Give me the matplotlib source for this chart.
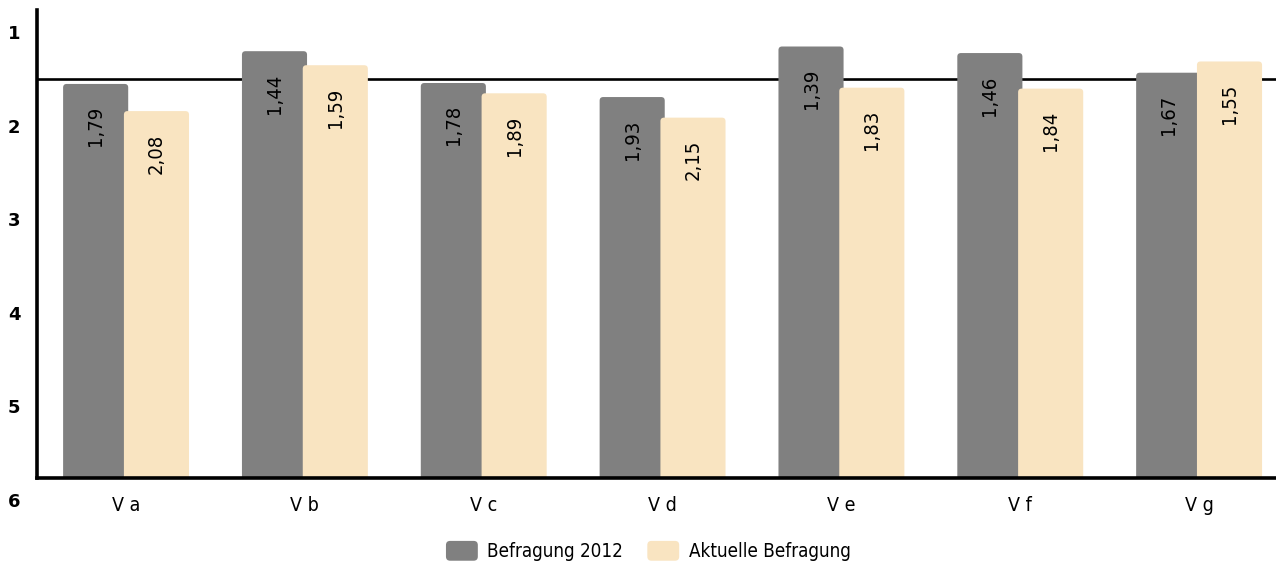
import matplotlib

matplotlib.use("Agg")
import matplotlib.pyplot as plt
import numpy as np
from matplotlib.legend_handler import HandlerPatch
from matplotlib.patches import FancyBboxPatch, Patch
from matplotlib.transforms import ScaledTranslation

plt.rcParams["font.family"] = ["DejaVu Sans"]
plt.rcParams["font.stretch"] = "condensed"

categories = ["V a", "V b", "V c", "V d", "V e", "V f", "V g"]
befragung_2012 = [1.79, 1.44, 1.78, 1.93, 1.39, 1.46, 1.67]
aktuelle = [2.08, 1.59, 1.89, 2.15, 1.83, 1.84, 1.55]
series_names = ["Befragung 2012", "Aktuelle Befragung"]
reference_value = 1.74
y_ticks = [1, 2, 3, 4, 5, 6]

GRAY = "#808080"
CREAM = "#f9e4c1"
BAR_W = 0.364
OFFSET = 0.17
SCALE_BOTTOM = 6

fig = plt.figure(figsize=(12.76, 5.67), dpi=100)
ax = fig.add_axes([37 / 1276, 1 - 478 / 567, 1 - 37 / 1276, 468 / 567])
ax.set_xlim(-0.498, 6.43)
ax.set_ylim(6, 1)

# aspect of data units so the corner radius is round on screen
px_x = 178.8
px_y = 93.6
aspect = px_x / px_y


def rounded_bar(x, value, color, z):
    box = FancyBboxPatch(
        (x - BAR_W / 2, value),
        BAR_W,
        (SCALE_BOTTOM + 0.1) - value,
        boxstyle="round,pad=0,rounding_size=0.02",
        mutation_aspect=aspect,
        facecolor=color,
        edgecolor="none",
        zorder=z,
        clip_on=True,
    )
    ax.add_patch(box)
    ax.annotate(
        f"{value:.2f}".replace(".", ","),
        xy=(x, value),
        xytext=(0, -16),
        textcoords="offset points",
        rotation=90,
        ha="center",
        va="top",
        fontsize=14.5,
        color="black",
        zorder=z + 1,
    )


ax.axhline(reference_value, color="black", lw=1.9, zorder=1)

xs = np.arange(len(categories))
for i, x in enumerate(xs):
    rounded_bar(x - OFFSET, befragung_2012[i], GRAY, 2)
    rounded_bar(x + OFFSET, aktuelle[i], CREAM, 3)

for side in ("top", "right"):
    ax.spines[side].set_visible(False)
for side in ("left", "bottom"):
    ax.spines[side].set_linewidth(2.6)
    ax.spines[side].set_zorder(5)

ax.set_xticks(xs)
ax.set_xticklabels(categories, fontsize=14)
ax.set_yticks(y_ticks)
ax.set_yticklabels([str(t) for t in y_ticks], fontsize=13, fontweight="bold",
                   fontstretch="normal")
ax.tick_params(axis="x", length=0, pad=13)
ax.tick_params(axis="y", length=0, pad=12)
shift = ScaledTranslation(0, -22 / 100, fig.dpi_scale_trans)
for lab in ax.get_yticklabels():
    lab.set_transform(lab.get_transform() + shift)


def rounded_handle(legend, orig_handle, xdescent, ydescent, width, height, fontsize):
    return FancyBboxPatch(
        (-xdescent, -ydescent), width, height,
        boxstyle="round,pad=0,rounding_size=3",
    )


handles = [Patch(facecolor=GRAY, edgecolor="none"), Patch(facecolor=CREAM, edgecolor="none")]
fig.legend(
    handles,
    series_names,
    loc="center",
    bbox_to_anchor=(0.508, 1 - 551 / 567),
    ncol=2,
    frameon=False,
    fontsize=13.5,
    handlelength=1.7,
    handleheight=1.25,
    handletextpad=0.5,
    columnspacing=1.3,
    handler_map={Patch: HandlerPatch(patch_func=rounded_handle)},
)

fig.savefig("out.png", dpi=100)
